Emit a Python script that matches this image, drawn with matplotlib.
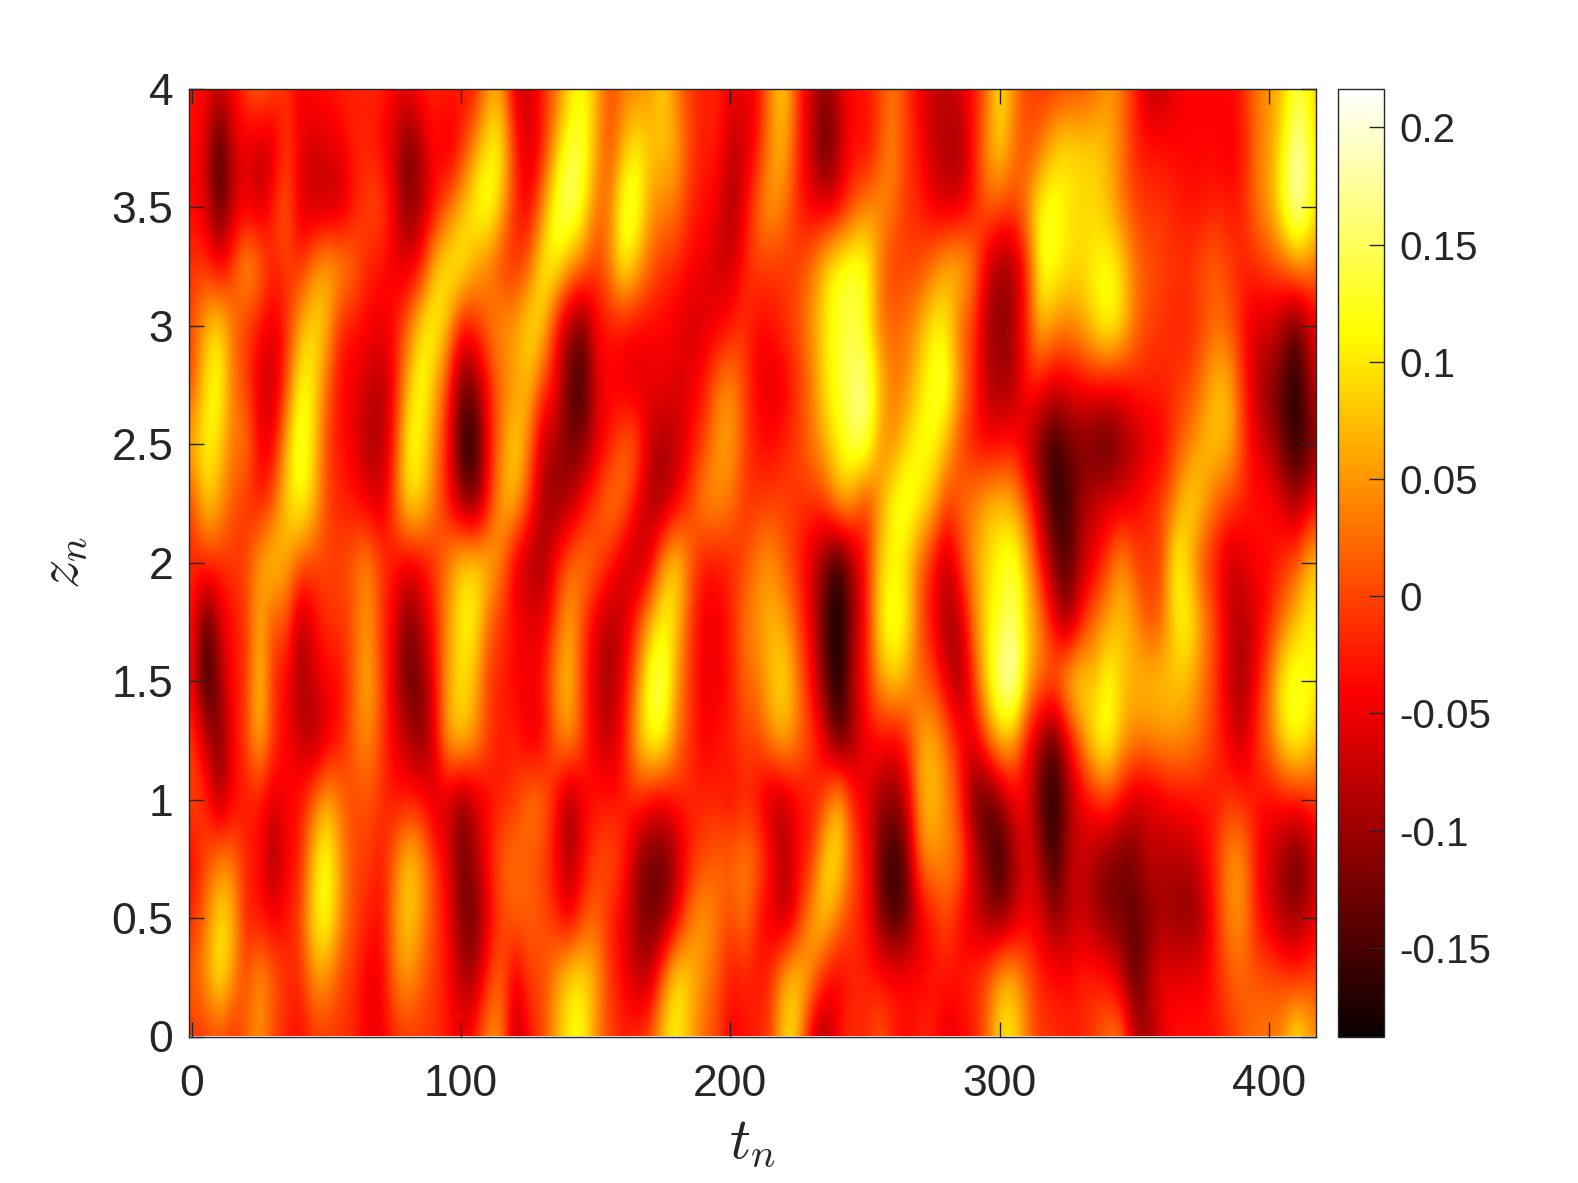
import numpy as np
import matplotlib
matplotlib.use("Agg")
import matplotlib.pyplot as plt

t_centres = list(range(0, 425, 5))
z_centres = [0, 0.25, 0.5, 0.75, 1, 1.25, 1.5, 1.75, 2, 2.25, 2.5, 2.75, 3, 3.25, 3.5, 3.75, 4]

z000 = [-.01,-.01,0,-.02,.02,.05,0,-.02,-.04,-.01,-.01,-.01,-.02,-.05,-.05,-.02,-.01,-.01,-.01,-.03,-.05,-.02,.05,.04,-.1,-.03,0,.06,.11,.12,.04,0,-.02,-.01,.01,.09,.11,.06,.02,0,-.05,-.03,
        -.02,0,.1,.07,-.07,-.1,-.03,-.01,-.02,.02,-.02,-.04,-.02,-.02,-.06,-.04,-.03,.02,.1,.1,.03,-.01,-.01,-.02,-.02,0,.03,.04,-.08,-.1,-.05,-.03,-.03,-.03,-.03,-.01,.01,.03,.03,.05,.12,.06,.05]
z025 = [.02,.05,.12,.05,0,.06,.02,-.01,-.02,.05,.05,0,-.01,-.05,-.05,.03,.06,.02,-.01,-.03,-.09,-.09,-.01,.02,-.06,0,0,.05,.1,.1,.06,-.01,-.04,-.08,-.08,.03,.11,.08,.04,.01,-.03,-.02,
        -.03,-.01,.07,.09,.05,-.03,-.05,-.02,-.02,-.03,-.03,-.03,-.04,-.03,-.03,-.03,-.01,.01,.07,.07,.02,-.02,-.03,-.04,-.02,-.02,-.03,-.08,-.15,-.08,-.05,-.05,-.05,-.05,-.02,.01,.02,.01,.01,0,-.02,0,0]
z050 = [-.02,.03,.1,.08,-.03,-.03,-.05,-.03,0,.1,.13,.05,0,-.02,-.04,.04,.09,.05,0,-.04,-.12,-.13,-.05,0,.02,.02,.01,-.02,-.06,0,.02,-.02,-.05,-.1,-.13,-.12,-.05,.03,.06,.03,0,.04,
        -.03,-.06,-.09,-.03,.06,.09,.03,-.01,-.03,-.11,-.16,-.14,-.06,-.03,.01,-.04,-.07,-.1,-.12,-.08,-.05,-.06,-.11,-.09,-.07,-.1,-.12,-.12,-.13,-.12,-.09,-.11,-.11,-.09,-.02,.04,.05,-.03,-.06,-.1,-.1,-.07,-.04]
z075 = [-.04,0,.04,.03,-.02,-.03,-.11,-.04,-.03,.08,.13,.05,0,0,-.03,.02,.09,.06,-.01,-.05,-.13,-.09,-.03,.02,.03,.01,0,-.04,-.1,-.04,0,.01,-.01,-.1,-.13,-.13,-.09,-.02,0,.02,.02,.04,
        .02,-.03,-.1,-.03,-.02,.1,.1,.01,-.03,-.12,-.17,-.13,.03,.05,.04,.03,-.06,-.12,-.17,-.1,-.05,-.1,-.17,-.08,-.07,-.09,-.12,-.13,-.12,-.07,-.09,-.08,-.09,-.05,-.01,.05,.05,-.03,-.07,-.1,-.14,-.1,-.04]
z100 = [0,-.01,-.1,-.04,-.03,-.03,-.06,-.04,-.03,.02,.07,.03,0,.01,-.01,-.03,-.03,-.03,-.07,-.07,-.12,-.07,-.04,-.02,-.01,.04,.03,-.03,-.11,-.05,-.03,-.03,-.03,-.01,-.04,-.05,-.02,-.02,-.02,-.02,-.04,-.02,
        -.04,-.09,-.08,-.04,-.03,0,.09,-.02,-.05,-.1,-.11,-.08,.06,.08,.04,-.01,-.13,-.15,-.11,-.05,-.05,-.14,-.18,-.11,-.05,-.03,0,-.04,-.07,-.07,-.05,-.04,-.03,-.03,-.03,-.01,-.02,-.03,-.04,-.03,-.03,-.01,0]
z125 = [0,-.07,-.13,-.04,0,.08,-.01,-.04,-.07,-.1,-.06,-.03,.02,.05,0,-.05,-.08,-.12,-.05,.07,.09,.05,0,-.03,-.02,-.06,-.05,.02,.06,0,-.06,-.08,-.03,.07,.13,.12,.03,-.01,-.05,-.03,-.02,0,
        0,.05,.07,.03,0,-.06,-.15,-.1,-.05,-.03,-.05,-.02,.06,.07,.03,-.03,-.06,.02,.08,.06,-.04,-.1,-.15,-.05,.03,.12,.13,.07,.04,.04,.05,.05,.04,.02,-.01,-.05,-.08,-.01,.03,.1,.13,.09,.05]
z150 = [-.04,-.18,-.1,-.03,-.02,.1,-.02,-.04,-.1,-.07,-.04,-.04,.02,.07,.01,-.07,-.13,-.12,-.04,.06,.1,.07,-.01,-.02,-.04,-.05,-.03,.05,.08,-.01,-.07,-.1,-.05,.03,.14,.15,.05,-.01,-.05,-.05,-.03,.02,
        .03,.08,.1,.03,-.04,-.13,-.19,-.09,-.02,.05,.09,.06,.02,0,-.06,-.11,-.01,.1,.18,.21,.08,.03,.03,.09,.11,.07,.13,.08,.07,.08,.08,.08,.07,.03,-.01,-.07,-.1,-.04,.03,.12,.13,.12,.1]
z175 = [-.02,-.16,-.07,-.03,-.01,.07,0,.02,-.1,-.04,-.01,-.01,.01,.06,-.01,-.05,-.13,-.08,-.02,.05,.11,.11,.02,-.01,-.04,-.05,-.06,0,.07,0,-.06,-.09,-.07,-.01,.07,.12,.08,-.01,-.05,-.05,-.02,.03,
        .05,.07,.06,0,-.05,-.15,-.19,-.1,-.04,.1,.14,.11,.01,-.04,-.1,-.08,.03,.1,.13,.16,.08,.04,-.05,-.11,-.03,.03,.06,.08,.05,0,.02,.1,.12,.05,0,-.07,-.09,-.06,-.02,.03,.08,.11,.09]
z200 = [-.02,-.01,-.01,-.01,0,.06,.09,.06,.02,0,0,0,.02,.05,0,-.03,-.05,-.04,-.01,.04,.09,.1,.08,.03,-.06,-.09,-.1,-.03,.02,.04,.02,-.02,-.07,-.09,-.06,.06,.1,.02,-.03,-.03,-.02,0,
        .04,.05,.01,-.02,-.07,-.12,-.18,-.1,-.03,.08,.11,.09,.02,-.03,-.09,-.01,.05,.09,.12,.14,.07,-.03,-.12,-.15,-.08,-.05,0,.06,0,-.01,0,.13,.07,0,-.03,-.08,-.06,-.04,-.04,-.01,.01,.08,.08]
z225 = [0,.09,.06,.01,-.01,-.03,.01,.09,.12,.08,0,-.02,-.03,-.05,-.07,.01,.1,.09,.03,-.03,-.1,-.13,-.03,.07,.07,0,-.09,-.11,-.09,-.04,0,.04,.03,-.04,-.09,-.1,-.05,0,.05,.05,.03,-.01,
        -.01,0,0,-.01,-.01,0,.07,.05,-.02,.05,.12,.14,.11,.07,0,.02,.04,.07,.08,.06,0,-.08,-.17,-.15,-.1,-.07,-.06,-.06,-.04,-.02,0,.04,.1,.07,.02,0,-.02,-.03,-.03,-.06,-.1,-.05,-.04]
z250 = [.07,.12,.09,.03,.04,-.05,-.05,.07,.15,.09,0,-.03,-.05,-.09,-.09,-.02,.12,.11,.04,-.03,-.17,-.17,-.04,.04,.1,.03,-.08,-.09,-.12,-.12,-.06,-.03,.02,.02,-.08,-.09,-.08,-.04,0,.05,.06,0,
        -.03,-.04,-.02,0,.03,.07,.11,.15,.16,.05,.04,.09,.12,.12,.07,0,-.03,-.05,-.04,-.03,-.08,-.13,-.17,-.13,-.12,-.14,-.15,-.11,-.09,-.06,-.05,0,.03,.07,.08,.07,0,-.06,-.08,-.14,-.17,-.14,-.08]
z275 = [0,.1,.13,.03,0,-.06,-.08,0,.12,.1,.02,-.04,-.05,-.07,-.09,-.04,.07,.13,.07,-.01,-.13,-.11,-.03,.03,.05,.08,0,-.04,-.14,-.16,-.06,-.04,-.06,-.07,-.05,-.05,-.06,-.05,-.03,.03,.05,0,
        -.05,-.06,-.05,-.01,.03,.1,.13,.16,.17,.09,.03,.04,.09,.13,.14,.05,-.01,-.08,-.1,-.09,-.02,-.03,-.06,-.05,-.04,-.03,-.04,-.04,-.02,-.02,-.02,-.01,0,.03,.08,.07,-.01,-.08,-.11,-.14,-.18,-.09,-.06]
z300 = [0,.07,.1,.03,-.01,-.03,-.06,-.02,.06,.1,.07,-.02,-.03,-.04,-.05,-.03,.02,.1,.12,.07,-.03,-.01,.03,.05,.06,.1,.09,-.03,-.1,-.13,-.04,-.03,-.03,-.04,-.04,-.04,-.05,-.07,-.06,-.05,-.03,-.01,
        -.04,-.03,-.01,.01,.05,.1,.13,.14,.12,.03,.02,.03,.06,.11,.1,.02,-.01,-.09,-.11,-.09,-.01,.08,.05,.04,.06,.1,.13,.1,.03,0,-.01,-.02,-.02,0,.02,.01,-.03,-.07,-.06,-.1,-.14,-.07,-.04]
z325 = [-.01,-.01,-.05,0,.07,.04,-.02,0,-.02,.04,.07,.06,.03,-.02,-.03,-.05,-.06,-.03,.08,.11,.12,.06,.03,-.01,-.02,.02,.11,.12,.06,.03,-.01,.04,.12,.07,.02,-.01,-.02,-.04,-.05,-.07,-.07,-.02,
        0,-.01,-.01,0,.03,.09,.13,.14,.13,.04,-.01,0,0,.03,.07,.08,.04,-.06,-.11,-.09,-.02,.13,.12,.1,.09,.11,.12,.09,.03,.01,0,-.01,-.01,.01,.02,0,-.02,-.01,0,.02,.05,.04,.02]
z350 = [-.04,-.06,-.15,-.08,-.05,-.08,-.02,.02,-.06,-.08,-.08,-.08,-.03,0,.01,-.05,-.12,-.09,-.04,.02,.07,.12,.14,.07,-.02,-.05,.04,.14,.17,.12,.03,.03,.14,.14,.05,.04,.03,-.02,-.03,-.05,-.1,-.05,
        .03,.06,.03,-.02,-.05,-.06,-.05,0,.04,.05,.03,-.01,-.02,-.05,-.07,-.06,-.03,.02,.01,0,.05,.12,.13,.1,.09,.09,.07,.03,0,-.01,-.01,-.02,-.03,-.03,-.02,-.03,-.02,.03,.06,.13,.2,.14,.06]
z375 = [-.03,-.06,-.17,-.07,-.05,-.08,-.07,0,-.05,-.07,-.06,-.05,-.02,-.02,-.04,-.07,-.13,-.09,-.03,-.07,-.02,.05,.11,.11,-.02,-.07,-.03,.07,.14,.14,.06,0,.07,.11,.08,.08,.06,0,-.03,-.02,-.08,-.07,
        -.03,.05,.07,-.02,-.08,-.15,-.09,-.03,-.05,0,.05,-.01,-.03,-.08,-.09,-.1,-.03,.05,.09,.03,0,.03,.08,.1,.09,.09,.07,.03,-.02,-.03,-.03,-.04,-.04,-.04,-.04,-.05,-.03,.03,.05,.11,.19,.13,.06]
z400 = [-.03,-.04,-.07,-.04,0,.03,0,-.01,-.05,-.03,-.03,-.02,-.02,-.02,-.02,-.04,-.05,-.02,-.02,-.02,-.03,-.03,.05,.05,-.07,-.07,-.02,.02,.09,.115,.07,0,.03,.04,.05,.09,.03,-.01,-.02,-.02,-.05,-.05,
        -.04,.05,.09,-.01,-.07,-.11,-.07,-.03,-.03,0,.03,0,-.05,-.07,-.08,-.06,-.03,.02,.11,.04,0,-.01,-.01,0,0,.02,.05,.03,-.02,-.08,-.08,-.05,-.04,-.04,-.04,-.04,-.02,.03,.05,.08,.14,.11,.05]

field = np.array([z000, z025, z050, z075, z100, z125, z150, z175, z200, z225, z250,
                  z275, z300, z325, z350, z375, z400])

x_ticks = [0, 100, 200, 300, 400]
y_ticks = [0, 0.5, 1, 1.5, 2, 2.5, 3, 3.5, 4]
y_labels = ["0", "0.5", "1", "1.5", "2", "2.5", "3", "3.5", "4"]
cb_ticks = [-0.15, -0.1, -0.05, 0, 0.05, 0.1, 0.15, 0.2]
cb_labels = ["-0.15", "-0.1", "-0.05", "0", "0.05", "0.1", "0.15", "0.2"]
c_min, c_max = -0.188, 0.2165

W, H = 1578, 1183
plt.rcParams["font.family"] = ["Liberation Sans", "DejaVu Sans"]
plt.rcParams["mathtext.fontset"] = "cm"
INK = "#262626"
fig = plt.figure(figsize=(W / 100, H / 100), dpi=100)
ax = fig.add_axes([188.5 / W, 1 - 1036.5 / H, (1316 - 188.5) / W, (1036.5 - 88.7) / H])
dt = t_centres[1] - t_centres[0]
dz = z_centres[1] - z_centres[0]
im = ax.imshow(field, origin="lower", aspect="auto", cmap="hot", vmin=c_min, vmax=c_max,
               interpolation="bicubic",
               extent=[t_centres[0] - dt / 2, t_centres[-1] + dt / 2,
                       z_centres[0] - dz / 2, z_centres[-1] + dz / 2])
ax.set_xlim(-1.2, 417.5)
ax.set_ylim(0, 4)
ax.set_xticks(x_ticks)
ax.set_yticks(y_ticks, y_labels)
ax.tick_params(direction="in", length=11, width=1, top=True, right=True, labelsize=32,
               colors=INK)
ax.tick_params(axis="x", pad=20)
ax.tick_params(axis="y", pad=11)
for s in ax.spines.values():
    s.set_linewidth(1)
    s.set_color(INK)
ax.set_xlabel(r"$t_n$", fontsize=42, color=INK, labelpad=8)
ax.set_ylabel(r"$z_n$", fontsize=42, color=INK, labelpad=15)

cax = fig.add_axes([1338 / W, 1 - 1037 / H, (1384 - 1338) / W, (1037 - 88.7) / H])
cb = fig.colorbar(im, cax=cax)
cb.set_ticks(cb_ticks, labels=cb_labels)
cax.tick_params(direction="in", length=11, width=1, labelsize=29, colors=INK, pad=11, right=True)
cb.outline.set_linewidth(1)
cb.outline.set_edgecolor(INK)
fig.savefig("out.png", dpi=100)
